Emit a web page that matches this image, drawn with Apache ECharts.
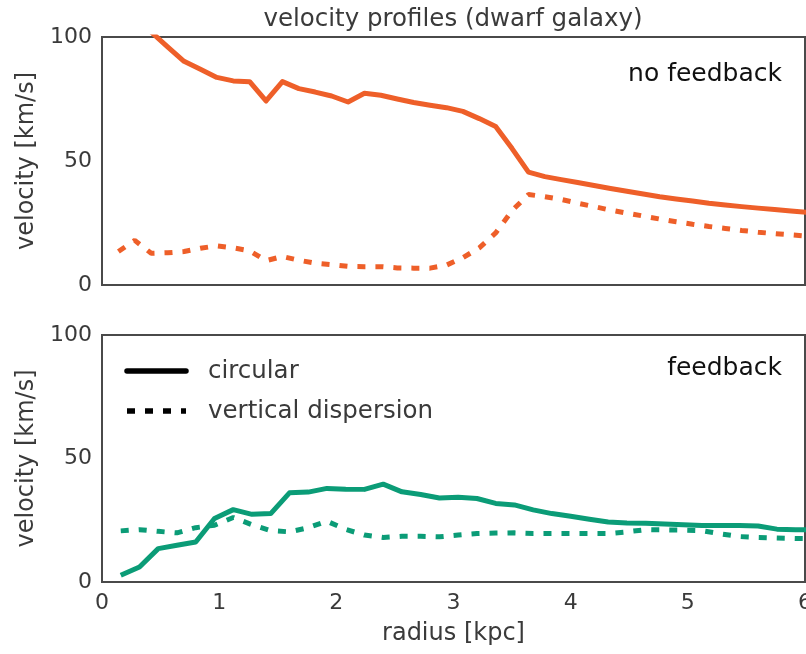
<!DOCTYPE html>
<html>
<head>
<meta charset="utf-8">
<script src="https://cdn.jsdelivr.net/npm/echarts@6/dist/echarts.min.js"></script>
<style>
html,body{margin:0;padding:0;background:#fff;}
#chart{width:806px;height:654px;}
</style>
</head>
<body>
<div id="chart"></div>
<script>
// ---- data ----
var topRadius = [0.14,0.28,0.42,0.56,0.70,0.84,0.98,1.12,1.26,1.40,1.54,1.68,1.82,1.96,2.10,2.24,2.38,2.52,2.66,2.80,2.94,3.08,3.22,3.36,3.50,3.64,3.78,3.92,4.06,4.20,4.34,4.48,4.62,4.76,4.90,5.04,5.18,5.32,5.46,5.60,5.74,5.88,6.02];
var noFbCircular = [115,109,102,96,90.2,87,83.7,82.3,82,74.2,82,79.2,77.8,76.2,73.8,77.3,76.5,75,73.6,72.5,71.5,70,67.1,63.9,55,45.5,43.7,42.5,41.3,40.1,38.9,37.8,36.7,35.6,34.7,33.9,33.0,32.3,31.6,31.0,30.4,29.8,29.3];
var noFbDispersion = [13.5,18,12.8,13,13.5,14.8,15.8,15,13.8,9.8,11.5,10,8.8,8.2,7.5,7.4,7.4,6.9,6.8,6.8,8,11,15,21,30,36.5,35.6,34.5,33,31.6,30.2,29,27.8,26.6,25.5,24.5,23.6,22.8,22,21.3,20.7,20.2,19.7];

var bottomRadius = [0.16,0.32,0.48,0.64,0.80,0.96,1.12,1.28,1.44,1.60,1.76,1.92,2.08,2.24,2.40,2.56,2.72,2.88,3.04,3.20,3.36,3.52,3.68,3.84,4.00,4.16,4.32,4.48,4.64,4.80,4.96,5.12,5.28,5.44,5.60,5.76,5.92,6.08];
var fbCircular = [2.7,6.1,13.5,14.9,16.2,25.7,29.3,27.4,27.7,36.1,36.4,37.9,37.6,37.5,39.6,36.5,35.4,34.0,34.3,33.8,31.8,31.2,29.2,27.7,26.6,25.4,24.3,23.9,23.8,23.5,23.2,22.9,22.9,22.9,22.7,21.4,21.2,21.2];
var fbDispersion = [20.7,21.2,20.5,19.9,22.0,23.0,26.1,23.2,20.8,20.3,22.0,24.6,21.3,19.0,18.0,18.5,18.5,18.3,19.0,19.6,19.8,19.9,19.6,19.6,19.6,19.6,19.6,20.3,21.2,21.1,21.0,20.8,19.5,18.4,18.0,17.8,17.6,17.5];

var yTicks = [0, 50, 100];
var xTicks = [0, 1, 2, 3, 4, 5, 6];
var titleText = 'velocity profiles (dwarf galaxy)';
var yName = 'velocity [km/s]';
var xName = 'radius [kpc]';
var panelLabels = ['no feedback', 'feedback'];
var legendLabels = ['circular', 'vertical dispersion'];

// ---- styles ----
var ORANGE = '#ee5f29';
var GREEN = '#0b9c77';
var TXT = '#3a3a3a';
var FONT = 'DejaVu Sans';
var DASH = [8, 10];

function pairs(xs, ys) { return xs.map(function (x, i) { return [x, ys[i]]; }); }

function yAxis(idx) {
  return {
    gridIndex: idx, type: 'value', min: 0, max: 100, interval: 50,
    name: yName, nameLocation: 'middle', nameGap: 60,
    nameTextStyle: { fontSize: 24, color: TXT, fontFamily: FONT },
    axisLine: { show: false }, axisTick: { show: false }, splitLine: { show: false },
    axisLabel: { fontSize: 22, color: TXT, fontFamily: FONT, margin: 10,
      formatter: function (v) { return yTicks.indexOf(v) >= 0 ? String(v) : ''; } }
  };
}
function xAxis(idx, showLabels) {
  return {
    gridIndex: idx, type: 'value', min: 0, max: 6, interval: 1,
    name: showLabels ? xName : '', nameLocation: 'middle', nameGap: 40,
    nameTextStyle: { fontSize: 24, color: TXT, fontFamily: FONT },
    axisLine: { show: false }, axisTick: { show: false }, splitLine: { show: false },
    axisLabel: { show: showLabels, fontSize: 22, color: TXT, fontFamily: FONT, margin: 10,
      formatter: function (v) { return xTicks.indexOf(v) >= 0 ? String(v) : ''; } }
  };
}

var chart = echarts.init(document.getElementById('chart'), null, { renderer: 'canvas' });
chart.setOption({
  animation: false,
  backgroundColor: '#ffffff',
  grid: [
    { left: 102, top: 37, width: 703, height: 248, containLabel: false, outerBoundsMode: 'none',
      show: true, borderColor: '#4a4a4a', borderWidth: 2, backgroundColor: 'transparent' },
    { left: 102, top: 335, width: 703, height: 247, containLabel: false, outerBoundsMode: 'none',
      show: true, borderColor: '#4a4a4a', borderWidth: 2, backgroundColor: 'transparent' }
  ],
  xAxis: [xAxis(0, false), xAxis(1, true)],
  yAxis: [yAxis(0), yAxis(1)],
  series: [
    { type: 'line', xAxisIndex: 0, yAxisIndex: 0, data: pairs(topRadius, noFbCircular), showSymbol: false, clip: true,
      lineStyle: { color: ORANGE, width: 5, join: 'round' } },
    { type: 'line', xAxisIndex: 0, yAxisIndex: 0, data: pairs(topRadius, noFbDispersion), showSymbol: false, clip: true,
      lineStyle: { color: ORANGE, width: 5, type: DASH } },
    { type: 'line', xAxisIndex: 1, yAxisIndex: 1, data: pairs(bottomRadius, fbCircular), showSymbol: false, clip: true,
      lineStyle: { color: GREEN, width: 5, join: 'round' } },
    { type: 'line', xAxisIndex: 1, yAxisIndex: 1, data: pairs(bottomRadius, fbDispersion), showSymbol: false, clip: true,
      lineStyle: { color: GREEN, width: 5, type: DASH } }
  ],
  graphic: [
    { type: 'text', x: 453, y: 20, style: { text: titleText, fontSize: 24.5, fill: TXT, fontFamily: FONT,
      textAlign: 'center', textVerticalAlign: 'middle' } },
    { type: 'text', right: 24, top: 62, style: { text: panelLabels[0], fontSize: 25, fill: '#111', fontFamily: FONT } },
    { type: 'text', right: 24, top: 356, style: { text: panelLabels[1], fontSize: 25, fill: '#111', fontFamily: FONT } },
    { type: 'line', shape: { x1: 127, y1: 371, x2: 186, y2: 371 }, style: { stroke: '#000', lineWidth: 5.5, lineCap: 'round' } },
    { type: 'line', shape: { x1: 127, y1: 411, x2: 186, y2: 411 }, style: { stroke: '#000', lineWidth: 5.5, lineDash: DASH } },
    { type: 'text', left: 208, top: 359, style: { text: legendLabels[0], fontSize: 24.5, fill: TXT, fontFamily: FONT } },
    { type: 'text', left: 208, top: 399, style: { text: legendLabels[1], fontSize: 24.5, fill: TXT, fontFamily: FONT } }
  ]
});
</script>
</body>
</html>
